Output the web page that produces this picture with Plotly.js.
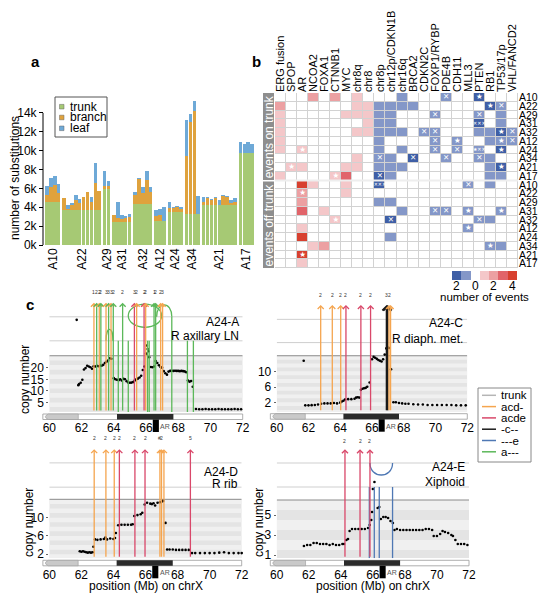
<!DOCTYPE html>
<html><head><meta charset="utf-8">
<script src="https://cdn.plot.ly/plotly-3.0.1.min.js"></script>
<style>body{margin:0;background:#fff}#chart{width:548px;height:600px}</style>
</head><body><div id="chart"></div>
<script>
// ---------- Panel a data ----------
const groupNames=['A10','A22','A29','A31','A32','A12','A24','A34','A21','A17'];
const groupSizes=[4,10,2,5,5,3,4,4,9,4];
const trunkK=[4.6,4.6,4.6,4.6, 3.7,3.7,3.7,3.7,3.7,3.7,3.7,3.7,3.7,3.7, 5.9,5.9, 2.4,2.4,2.4,2.4,2.4, 4.3,4.3,4.3,4.3,4.3, 2.5,2.5,2.5, 3.5,3.5,3.5,3.5, 3.3,3.3,3.3,3.3, 4.2,4.2,4.2,4.2,4.2,4.2,4.2,4.2,4.2, 9.7,9.7,9.7,9.7];
const branchK=[0.7,1.6,1.8,0.9, 1.3,0.15,0.5,1.1,0.8,1.4,1.9,0.9,2.9,2.0, 0.4,0.4, 0.8,0.5,0.4,0.5,0.6, 1.0,2.7,1.2,2.6,1.3, 0.6,0.7,0, 0.4,0.4,0.5,0.3, 6.1,9.7,10.9,0, 0.4,0.8,0.6,0.8,0,1.0,0.9,0.3,0.4, 0.1,0.1,0.1,0.1];
const leafK=[1.0,0.9,0.9,0.95, 0,0.35,0.2,0.5,0.4,0,0,0.5,2.1,0, 1.5,0.5, 0,1.7,0.4,0.2,0.3, 0.3,0.1,0.6,0.9,0.6, 0.6,0.6,1.5, 0.7,0.1,0.1,0.2, 3.9,0.9,1.1,1.9, 0.5,0.1,0.1,0.1,0.6,0.1,0.1,0.3,0.4, 1.1,0.9,1.1,0.9];
const subsLegend=['trunk','branch','leaf'];
const subsTicks=[0,2,4,6,8,10,12,14];

// ---------- Panel b data ----------
const colNames=['ERG fusion','SPOP','AR','NCOA2','FOXA1','CTNNB1','MYC','chr8q','chr8','chr8p','chr12p/CDKN1B','chr16q','BRCA2','CDKN2C','FOXP1/RYBP','PDE4B','CDH11','MLL3','PTEN','RB1','TP53/17p','VHL/FANCD2'];
const rowNames=['A10','A22','A29','A31','A32','A12','A24','A34','A21','A17','A10','A22','A29','A31','A32','A12','A24','A34','A21','A17'];
const events=[
[0,0,0,2,0,2,0,1,0,0,0,-1,0,0,0,-1,0,0,-2,0,0,0],
[2,0,0,0,0,0,0,1,1,-1,-1,-1,-1,0,0,0,0,0,0,-2,-1,0],
[1,0,0,0,0,0,1,1,1,-1,-1,0,0,0,-1,0,0,0,-1,0,-1,0],
[1,0,0,0,0,0,0,0,1,-1,-1,0,0,0,0,0,0,0,-2,0,-1,0],
[1,0,0,0,0,0,0,1,1,-1,-1,-1,0,-1,-1,0,0,0,-1,-1,-2,-1],
[1,0,0,0,0,0,0,0,0,-1,0,0,0,0,-1,0,-1,0,0,-1,-1,-1],
[1,0,1,0,0,0,0,0,0,-1,0,-1,0,0,-1,0,-1,0,-1,0,-2,0],
[0,0,0,0,0,0,0,1,0,-1,-1,0,-2,0,0,-1,0,0,-1,-1,0,0],
[0,1,1,0,0,0,1,1,0,-1,-1,-1,0,0,0,0,0,0,0,-1,-2,0],
[1,0,0,0,0,1,3,0,0,-2,-1,0,0,0,0,0,0,0,0,-1,-1,0],
[0,0,4,1,0,0,1,0,0,-2,0,0,0,0,0,0,0,-1,0,-1,0,0],
[0,0,2,0,0,0,1,0,0,0,0,0,0,0,0,0,0,0,0,0,0,0],
[0,0,2,0,0,0,0,0,0,-1,-1,0,0,0,0,0,0,0,0,0,0,0],
[0,0,3,0,1,0,0,0,0,0,0,-1,0,0,-1,-1,0,-1,0,0,-1,0],
[0,0,0,0,0,1,0,0,0,0,-2,0,0,0,0,0,0,0,-1,-1,0,0],
[0,0,1,0,0,0,0,0,0,0,0,0,0,0,0,0,0,-1,0,0,0,0],
[0,0,4,0,0,0,0,0,0,0,-1,0,0,0,0,0,0,0,0,0,0,0],
[0,0,0,1,2,0,0,0,0,0,0,0,0,0,0,0,0,0,0,-1,-1,0],
[0,0,4,0,0,0,0,0,0,0,0,0,0,0,0,0,0,0,0,0,0,0],
[0,0,1,0,0,0,0,0,0,0,0,0,0,0,0,0,0,0,0,0,0,0]];
// [row, col, mark]
const marks=[[0,15,'✕'],[0,18,'★'],[1,19,'★'],[1,20,'✕'],[2,14,'✕'],[2,18,'✕'],[3,18,'✕✕✕'],
[4,13,'✕'],[4,14,'✕'],[4,20,'★'],[4,21,'✕'],[5,14,'✕'],[5,16,'★'],[5,20,'★'],[5,21,'✕'],
[6,2,'★'],[6,14,'✕'],[6,16,'✕'],[6,18,'★✕✕'],[6,20,'★'],[7,9,'✕'],[7,12,'✕'],[7,15,'✕'],[7,18,'✕'],
[8,1,'★'],[8,20,'★'],[9,5,'★'],[9,9,'✕'],[10,9,'✕✕✕'],[10,17,'✕'],[11,2,'★'],
[13,14,'✕'],[13,15,'✕'],[13,17,'★'],[13,20,'★'],[14,5,'★'],[14,10,'✕'],[14,18,'✕'],[15,17,'★'],[17,19,'★'],[18,2,'★']];
const scaleVals=[-2,-1,0,1,2,3,4];
const scaleTickVals=[-2,0,2,4];
const scaleTickText=['2','0','2','4'];

// ---------- Panel c data (position Mb, copy number) ----------
const cnA=[[61.7,40.5],[61.8,12.5],[61.85,13.0],[61.95,13.5],[62.05,14.8],[62.15,19.2],[62.25,19.8],[62.35,20.8],[62.45,20.5],[62.55,20.2],[62.65,19.5],[62.75,20.6],[62.85,20.5],[62.95,20.8],[63.05,20.6],[63.15,20.9],[63.25,20.8],[63.35,21.2],[63.45,22.0],[63.55,22.5],[63.65,23.0],[63.75,24.0],[63.85,23.8],
[64.0,15.5],[64.1,15.0],[64.2,14.8],[64.3,14.6],[64.4,15.0],[64.5,14.5],[64.6,15.2],[64.7,15.0],[64.8,14.2],[64.9,13.6],[65.0,13.5],[65.1,13.6],[65.2,13.8],[65.3,14.5],[65.4,15.0],[65.5,15.3],[65.6,15.8],[65.7,16.5],[65.8,19.0],[65.9,20.5],[66.0,26.0],[66.05,29.5],[66.1,28.0],[66.15,27.0],[66.2,24.5],
[66.3,20.3],[66.4,20.2],[66.5,20.5],[66.6,22.8],[66.7,22.0],[66.8,21.0],[66.9,20.3],[67.0,20.0],[67.1,18.5],[67.2,17.6],[67.3,17.0],[67.4,18.3],[67.5,18.6],[67.6,18.7],[67.7,18.6],[67.8,18.7],[67.9,18.6],[68.0,18.6],[68.1,18.5],[68.2,18.6],[68.3,18.5],[68.4,18.4],[68.5,18.0],[68.6,14.5],[68.7,14.0],[68.8,14.3],[68.9,11.8],
[69.1,2.3],[69.3,2.2],[69.5,2.2],[69.7,2.3],[69.9,2.2],[70.1,2.2],[70.3,2.2],[70.5,2.3],[70.7,2.2],[70.9,2.2],[71.1,2.2],[71.3,2.2],[71.5,2.3],[71.7,2.2],[71.9,2.2]];
const cnC=[[61.7,12.8],[61.8,1.3],[62.0,1.3],[62.2,1.35],[62.4,1.4],[62.6,1.5],[62.8,1.7],[63.0,1.8],[63.2,1.8],[63.4,1.8],[63.6,1.9],[63.8,1.8],[64.0,2.0],[64.1,2.3],[64.2,2.5],[64.3,2.8],[64.5,2.9],[64.7,2.9],[64.9,3.0],[65.0,3.3],[65.1,3.4],[65.2,3.3],[65.3,5.3],[65.4,5.6],[65.5,5.7],[65.6,5.8],[65.7,6.1],[65.85,7.2],
[66.0,13.2],[66.1,13.8],[66.2,13.6],[66.3,13.3],[66.4,13.0],[66.5,12.8],[66.6,12.6],[66.7,13.2],[66.8,14.4],[66.9,16.0],[67.0,16.2],[67.1,16.1],[67.2,10.6],
[67.35,2.1],[67.5,2.1],[67.7,1.9],[67.9,1.8],[68.1,1.7],[68.3,1.7],[68.6,1.6],[68.9,1.5],[69.2,1.5],[69.5,1.4],[69.8,1.4],[70.1,1.4],[70.4,1.4],[70.7,1.4],[71.0,1.4],[71.3,1.3],[71.6,1.3],[71.9,1.3]];
const cnD=[[61.9,2.6],[62.0,2.5],[62.1,2.6],[62.2,2.5],[62.3,2.4],[62.4,2.3],[62.5,2.4],[62.6,2.3],[62.7,2.4],[62.75,3.6],[62.85,5.2],[63.0,5.1],[63.2,5.2],[63.4,5.3],[63.5,5.6],[63.6,5.2],[63.8,5.4],[64.0,5.3],[64.1,5.5],[64.15,6.6],
[64.3,8.3],[64.5,8.4],[64.7,8.4],[64.9,8.4],[65.1,8.4],[65.2,8.5],[65.3,10.3],[65.5,10.5],[65.7,10.7],[65.8,11.0],[65.95,12.8],[66.1,13.2],[66.3,13.0],[66.4,12.9],[66.5,13.1],[66.6,12.6],[66.75,13.2],[66.9,13.3],[67.0,13.4],[67.1,13.6],[67.25,8.8],
[67.35,3.0],[67.5,3.0],[67.7,3.0],[67.9,2.9],[68.1,2.9],[68.3,2.9],[68.5,2.9],[68.7,2.9],[68.9,2.2],[69.1,2.2],[69.4,2.2],[69.7,2.2],[70.0,2.2],[70.3,2.2],[70.6,2.3],[70.9,2.4],[71.2,2.2],[71.5,2.2],[71.8,2.2],[72.0,2.2]];
const cnE=[[61.7,1.9],[61.9,2.0],[62.1,2.0],[62.3,2.2],[62.5,2.2],[62.7,2.1],[62.9,2.1],[63.1,2.1],[63.3,2.0],[63.5,2.1],[63.7,2.0],[63.9,2.0],[64.1,2.1],[64.2,2.1],[64.35,2.5],[64.45,2.6],[64.55,3.4],[64.7,3.6],[64.9,3.6],[65.1,3.6],[65.3,3.6],[65.5,3.6],[65.7,3.7],[65.8,4.0],[65.9,4.5],[65.95,5.3],[66.0,7.6],[66.1,8.3],
[66.3,5.7],[66.4,5.8],[66.5,4.6],[66.65,4.8],[66.8,4.8],[66.95,4.7],[67.1,4.4],[67.25,4.2],[67.35,3.5],[67.5,3.6],[67.7,3.5],[67.9,3.5],[68.1,3.5],[68.3,3.5],[68.5,3.5],[68.7,3.5],[68.9,3.5],[69.1,3.5],[69.3,3.6],[69.5,3.6],[69.7,3.5],[69.8,2.9],[70.0,2.9],[70.2,3.1],[70.35,3.4],[70.5,3.3],[70.7,3.2],[70.9,3.0],[71.0,2.9],[71.15,2.5],[71.3,2.1],[71.5,2.1],[71.7,2.1],[71.9,2.0]];
// breakpoints (arrows): position and lineage class
const brkA=[62.77,62.94,63.1,63.2,63.52,63.68,63.83,63.97,64.55,65.28,65.42,65.88,65.98,66.5,66.6,66.91,67.03];
const brkAcls=['acd-','a---','acd-','a---','acd-','a---','acd-','a---','a---','acde','acd-','acde','acd-','a---','a---','acd-','acd-'];
const brkAnum=['1','2','2','2','3','3','3','2','2','3','2','2','2','1','2','2','3'];
const shortA=[64.28,64.9,66.1,66.2,67.6,68.57,68.94];
const shortAtop=[31.5,31.5,31.5,31.5,41.8,31.5,31.5];
const brkC=[62.77,63.5,64.03,64.36,65.3,65.91,66.92,66.98,67.07,67.17];
const brkCcls=['acd-','acd-','acd-','acde','acde','acde','-c--','-c--','acd-','acd-'];
const brkCnum=['2','2','2','2','2','2','3','','2',''];
const brkD=[62.8,63.53,64.05,64.37,65.34,65.97,66.9,67.0,67.15,68.8];
const brkDcls=['acd-','acd-','acd-','acde','acde','acde','acd-','acd-','acd-','acde'];
const brkDnum=['2','2','2','2','2','2','#','2','','5'];
const brkE=[64.26,65.2,65.82];
const brkEcls=['acde','acde','acde'];
const brkEnum=['2','2','2'];
const shortE=[65.78,66.09,66.4,67.23];
const shortEtop=[7.8,7.8,7.8,7.8];
const lineageNames=['trunk','acd-','acde','-c--','---e','a---'];

// ---------- styling ----------
const W=548,H=600;
const PX=x=>x/W, PY=y=>1-y/H;
const FONT='"Liberation Sans", Arial, sans-serif';
const subsColors=['#a6c974','#dfa23d','#6ea9d7'];
const linColors={'trunk':'#b5b5b5','acd-':'#f5a54f','acde':'#d9486a','-c--':'#1a1a1a','---e':'#4f78b4','a---':'#5cb85a'};
const hmColors=['#3f5fa6','#8497c8','#ffffff','#f4c7c9','#eca0a2','#e1646a','#d8402f'];
const cs=[];hmColors.forEach((c,i)=>{cs.push([i/7,c]);cs.push([(i+1)/7,c]);});

const traces=[],shapes=[],ann=[];
function txt(t,x,y,o){return Object.assign({text:t,x:PX(x),y:PY(y),xref:'paper',yref:'paper',xanchor:'center',yanchor:'middle',showarrow:false,font:{family:FONT,size:12,color:'#000'}},o||{});}

// ---------- Panel a ----------
const gap=0.4,barX=[],centers=[];let k=0;
groupSizes.forEach((n,g)=>{for(let i=0;i<n;i++)barX.push(k+i+g*gap);centers.push(k+g*gap+(n-1)/2);k+=n;});
[trunkK,branchK,leafK].forEach((arr,i)=>traces.push({type:'bar',x:barX,y:arr,name:subsLegend[i],marker:{color:subsColors[i],line:{width:0}},xaxis:'x',yaxis:'y',hoverinfo:'skip',showlegend:false}));
shapes.push({type:'line',xref:'paper',yref:'y',x0:PX(43),x1:PX(43),y0:0,y1:14,line:{color:'#000',width:1}});
// legend a
shapes.push({type:'rect',xref:'paper',yref:'paper',x0:PX(55),x1:PX(107),y0:PY(137),y1:PY(97),line:{color:'#555',width:1},fillcolor:'#fff'});
subsLegend.forEach((n,i)=>{const y=106.7+i*10.8;
 shapes.push({type:'rect',xref:'paper',yref:'paper',x0:PX(59.5),x1:PX(64),y0:PY(y+2.3),y1:PY(y-2.3),fillcolor:subsColors[i],line:{color:'#666',width:0.5}});
 ann.push(txt(n,67.5,y,{xanchor:'left',font:{family:FONT,size:12}}));});
ann.push(txt('number of substitutions',15,178,{textangle:-90,font:{family:FONT,size:12}}));
ann.push(txt('<b>a</b>',35,62,{font:{family:FONT,size:15}}));

// ---------- Panel b ----------
traces.push({type:'heatmap',z:events,x:colNames.map((_,i)=>i),y:rowNames.map((_,i)=>i),xaxis:'x2',yaxis:'y2',zmin:-2.5,zmax:4.5,colorscale:cs,showscale:false,xgap:1,ygap:1,hoverinfo:'skip'});
traces.push({type:'scatter',mode:'text',x:marks.map(m=>m[1]),y:marks.map(m=>m[0]),text:marks.map(m=>m[2]),textfont:{family:'"DejaVu Sans"',color:'#fff',size:marks.map(m=>m[2].length>1?5:7.5)},xaxis:'x2',yaxis:'y2',hoverinfo:'skip',showlegend:false,cliponaxis:false});
shapes.push({type:'rect',xref:'x2',yref:'y2',x0:-0.5,x1:21.5,y0:-0.5,y1:19.5,fillcolor:'#d2d2d2',line:{width:0},layer:'below'});
shapes.push({type:'line',xref:'x2',yref:'y2',x0:-0.5,x1:21.5,y0:9.5,y1:9.5,line:{color:'#eeeeee',width:2}});
shapes.push({type:'rect',xref:'paper',yref:'paper',x0:PX(263),x1:PX(274),y0:PY(180),y1:PY(93),fillcolor:'#8e8e8e',line:{width:0}});
shapes.push({type:'rect',xref:'paper',yref:'paper',x0:PX(263),x1:PX(274),y0:PY(268),y1:PY(181.5),fillcolor:'#8e8e8e',line:{width:0}});
ann.push(txt('events on trunk',268.8,136.5,{textangle:-90,font:{family:FONT,size:12,color:'#fff'}}));
ann.push(txt('events off trunk',268.8,224.7,{textangle:-90,font:{family:FONT,size:12,color:'#fff'}}));
traces.push({type:'heatmap',z:[scaleVals],x:scaleVals,y:[0],xaxis:'x3',yaxis:'y3',zmin:-2.5,zmax:4.5,colorscale:cs,showscale:false,hoverinfo:'skip'});
scaleTickVals.forEach((v,i)=>ann.push({xref:'x3',yref:'paper',x:v,y:PY(285.5),xanchor:'center',yanchor:'middle',text:scaleTickText[i],showarrow:false,font:{family:FONT,size:12,color:'#000'}}));
ann.push(txt('number of events',484.5,297,{font:{family:FONT,size:11.5}}));
ann.push(txt('<b>b</b>',256.5,62,{font:{family:FONT,size:15}}));

// ---------- Panel c ----------
const panels=[
 {n:4,cn:cnA,brk:brkA,cls:brkAcls,num:brkAnum,numY:292,sh:shortA,shTop:shortAtop,shCls:'a---',xpx:[49.3,242.7],ypx:[300,412],range:[0.99,49.0],ticks:[5,10,15,20],grey:25.1,step:2,lines:[31.5,41.8],top:47.8,t1:'A24-A',t2:'R axillary LN',ty:[322,336]},
 {n:5,cn:cnC,brk:brkC,cls:brkCcls,num:brkCnum,numY:295,sh:[],shTop:[],shCls:'---e',xpx:[276.7,467.3],ypx:[303,411.7],range:[-0.34,27.72],ticks:[2,6,10],grey:14.1,step:1,lines:[17.5,23.5],top:27.2,t1:'A24-C',t2:'R diaph. met.',ty:[323,338.5]},
 {n:6,cn:cnD,brk:brkD,cls:brkDcls,num:brkDnum,numY:438,sh:[],shTop:[],shCls:'---e',xpx:[49.3,241.7],ypx:[447,558.3],range:[1.07,25.37],ticks:[2,6,10],grey:13.95,step:1,lines:[16.6,21.9],top:24.9,t1:'A24-D',t2:'R rib',ty:[471.5,484]},
 {n:7,cn:cnE,brk:brkE,cls:brkEcls,num:brkEnum,numY:441,sh:shortE,shTop:shortEtop,shCls:'---e',xpx:[276.7,469],ypx:[447,558.3],range:[0.67,11.8],ticks:[1,3,5],grey:6.5,step:1,lines:[7.8,10.2],top:11.57,t1:'A24-E',t2:'Xiphoid',ty:[467,482]}];
const layout={width:W,height:H,margin:{l:0,r:0,t:0,b:0},paper_bgcolor:'#fff',plot_bgcolor:'rgba(0,0,0,0)',showlegend:false,barmode:'stack',bargap:0.1,font:{family:FONT,size:12,color:'#000'},
 xaxis:{domain:[PX(45),PX(254)],range:[-0.5,49.5+9*gap],tickvals:centers,ticktext:groupNames,tickangle:-90,ticks:'',showgrid:false,zeroline:false,showline:false,anchor:'y',tickfont:{size:12}},
 yaxis:{domain:[PY(245),PY(95)],range:[0,15.9],tickvals:subsTicks,ticktext:subsTicks.map(v=>v+'k'),ticks:'outside',ticklen:4,tickcolor:'#000',showgrid:false,zeroline:false,showline:false,anchor:'free',position:PX(43),tickfont:{size:12}},
 xaxis2:{domain:[PX(275),PX(518)],range:[-0.5,21.5],side:'top',tickvals:colNames.map((_,i)=>i),ticktext:colNames,tickangle:-90,ticks:'',showgrid:false,zeroline:false,anchor:'y2',tickfont:{size:11}},
 yaxis2:{domain:[PY(268),PY(93)],range:[19.5,-0.5],side:'right',tickvals:rowNames.map((_,i)=>i),ticktext:rowNames,ticks:'',showgrid:false,zeroline:false,anchor:'x2',tickfont:{size:10.5}},
 xaxis3:{domain:[PX(452),PX(517)],range:[-2.5,4.5],showticklabels:false,ticks:'',showgrid:false,zeroline:false,anchor:'y3'},
 yaxis3:{domain:[PY(280),PY(271)],range:[-0.5,0.5],visible:false,anchor:'x3'}};

panels.forEach(p=>{
 const xa='x'+p.n,ya='y'+p.n;
 const xp=mb=>(p.xpx[0]+(mb-60)/12*(p.xpx[1]-p.xpx[0]));
 layout['xaxis'+p.n]={domain:[PX(p.xpx[0]),PX(p.xpx[1])],range:[60,72],tickvals:[60,62,64,66,68,70,72],ticks:'outside',ticklen:5,tickcolor:'rgba(0,0,0,0)',showgrid:false,zeroline:false,showline:false,anchor:ya,tickfont:{size:12}};
 layout['yaxis'+p.n]={domain:[PY(p.ypx[1]),PY(p.ypx[0])],range:p.range,tickvals:p.ticks,ticks:'outside',ticklen:2,tickcolor:'#666',showgrid:false,zeroline:false,showline:false,anchor:xa,tickfont:{size:12}};
 // grey banded region
 shapes.push({type:'rect',xref:xa,yref:ya,x0:60,x1:72,y0:p.range[0],y1:p.grey,fillcolor:'#e4e4e4',line:{width:0},layer:'below'});
 let alt=0;for(let v=p.grey;v>p.range[0];v-=p.step){if(alt%2===0)shapes.push({type:'rect',xref:xa,yref:ya,x0:60,x1:72,y0:Math.max(v-p.step,p.range[0]),y1:v,fillcolor:'#f0f0f0',line:{width:0},layer:'below'});alt++;}
 shapes.push({type:'line',xref:xa,yref:ya,x0:60,x1:72,y0:p.grey,y1:p.grey,line:{color:'#8a8a8a',width:1},layer:'below'});
 p.lines.forEach(l=>shapes.push({type:'line',xref:xa,yref:ya,x0:60,x1:72,y0:l,y1:l,line:{color:'#cfcfcf',width:1},layer:'below'}));
 // ideogram
 const b=p.ypx[1];
 shapes.push({type:'rect',xref:'paper',yref:'paper',x0:PX(xp(59.6)),x1:PX(xp(72)),y0:PY(b+7.5),y1:PY(b+2),fillcolor:'#fff',line:{color:'#9a9a9a',width:0.8}});
 shapes.push({type:'path',xref:'paper',yref:'paper',path:`M ${PX(xp(61.8))},${PY(b+2)} L ${PX(xp(59.95))},${PY(b+2)} Q ${PX(xp(59.55))},${PY(b+4.75)} ${PX(xp(59.95))},${PY(b+7.5)} L ${PX(xp(61.8))},${PY(b+7.5)} Z`,fillcolor:'#c9c9c9',line:{color:'#9a9a9a',width:0.6}});
 shapes.push({type:'rect',xref:'paper',yref:'paper',x0:PX(xp(64.2)),x1:PX(xp(67.7)),y0:PY(b+7.5),y1:PY(b+2),fillcolor:'#2b2b2b',line:{width:0}});
 shapes.push({type:'rect',xref:'paper',yref:'paper',x0:PX(xp(66.42)),x1:PX(xp(66.8)),y0:PY(b+20),y1:PY(b+7.5),fillcolor:'#000',line:{width:0}});
 ann.push(txt('AR',xp(67.2),b+14.5,{font:{family:FONT,size:7,color:'#555'}}));
 // short lines
 p.sh.forEach((x,i)=>shapes.push({type:'line',xref:xa,yref:ya,x0:x,x1:x,y0:p.range[0],y1:p.shTop[i],line:{color:linColors[p.shCls],width:1.3}}));
 // arrows
 p.brk.forEach((x,i)=>{const c=linColors[p.cls[i]];
  ann.push({xref:xa,yref:ya,axref:xa,ayref:ya,x:x,y:p.top,ax:x,ay:p.range[0],text:'',showarrow:true,arrowhead:4,arrowsize:0.9,arrowwidth:p.cls[i]==='-c--'?1.8:1.3,arrowcolor:c,standoff:0});
  if(p.num[i])ann.push({xref:xa,yref:'paper',x:x,y:PY(p.numY),xanchor:'center',yanchor:'middle',text:p.num[i],showarrow:false,font:{family:FONT,size:5,color:'#333'}});});
 // copy-number points
 traces.push({type:'scatter',mode:'markers',x:p.cn.map(d=>d[0]),y:p.cn.map(d=>d[1]),xaxis:xa,yaxis:ya,marker:{color:'#000',size:2.6},hoverinfo:'skip',showlegend:false,cliponaxis:false});
 ann.push(txt(p.t1,p.xpx[1]-2,p.ty[0],{xanchor:'right',font:{family:FONT,size:12}}));
 ann.push(txt(p.t2,p.xpx[1]-2,p.ty[1],{xanchor:'right',font:{family:FONT,size:12}}));
});
// arcs (rearrangement links)
shapes.push({type:'path',xref:'x4',yref:'y4',path:'M 63.52,31.5 C 63.52,38 63.95,38 63.95,31.5',line:{color:linColors['a---'],width:1.3}});
shapes.push({type:'circle',xref:'x4',yref:'y4',x0:64.9,x1:66.97,y0:37.3,y1:47.2,line:{color:linColors['a---'],width:1.3}});
shapes.push({type:'path',xref:'x4',yref:'y4',path:'M 66.66,41.8 C 66.66,48.6 67.6,48.6 67.6,41.8',line:{color:linColors['a---'],width:1.3}});
shapes.push({type:'path',xref:'x7',yref:'y7',path:'M 65.82,10.2 C 65.82,8.6 67.23,8.6 67.23,10.2',line:{color:linColors['---e'],width:1.3}});
// axis titles panel c
ann.push(txt('copy number',25,380,{textangle:-90,font:{family:FONT,size:12}}));
ann.push(txt('copy number',29,523,{textangle:-90,font:{family:FONT,size:12}}));
ann.push(txt('copy number',259,523,{textangle:-90,font:{family:FONT,size:12}}));
ann.push(txt('position (Mb) on chrX',146,586,{font:{family:FONT,size:12}}));
ann.push(txt('position (Mb) on chrX',373,586,{font:{family:FONT,size:12}}));
ann.push(txt('<b>c</b>',30,304,{font:{family:FONT,size:15}}));
// legend c
shapes.push({type:'rect',xref:'paper',yref:'paper',x0:PX(478),x1:PX(531),y0:PY(462),y1:PY(388),line:{color:'#888',width:1},fillcolor:'#fff'});
lineageNames.forEach((n,i)=>{const y=395.3+i*11.3;
 shapes.push({type:'line',xref:'paper',yref:'paper',x0:PX(482),x1:PX(496),y0:PY(y),y1:PY(y),line:{color:linColors[n],width:1.5}});
 ann.push(txt(n,499,y,{xanchor:'left',font:{family:FONT,size:11.5}}));});

layout.shapes=shapes;layout.annotations=ann;
Plotly.newPlot('chart',traces,layout,{staticPlot:true,displayModeBar:false});
</script></body></html>
